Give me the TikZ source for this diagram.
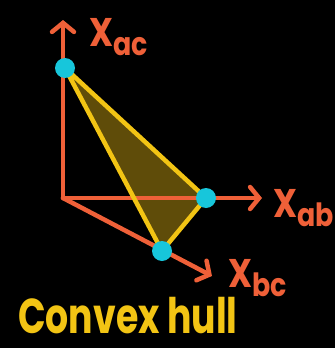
\documentclass[tikz,border=0pt]{standalone}
\usepackage{fontspec}
\usepackage{graphicx}
\setmainfont{Poppins}
\usetikzlibrary{arrows.meta}

\definecolor{axisorange}{HTML}{EF6038}
\definecolor{hullyellow}{HTML}{F2C414}
\definecolor{hullfill}{HTML}{5F4C09}
\definecolor{pointcyan}{HTML}{17C6DB}

\newcommand{\axislabel}[1]{\scalebox{0.84}[1]{\bfseries\fontsize{40}{40}\selectfont X\raisebox{-9pt}{\fontsize{32}{32}\selectfont #1}}}

\begin{document}
\begin{tikzpicture}[x=1pt, y=-1pt,
    axis/.style={axisorange, line width=4.5pt, line cap=round,
        -{Straight Barb[length=9pt, width=22pt, line cap=round]}},
    hulledge/.style={hullyellow, line width=4.5pt, line join=round},
    vertex/.style={circle, fill=pointcyan, minimum size=20pt, inner sep=0pt},
    axisname/.style={axisorange, inner sep=0pt, anchor=west}]

    % background
    \fill[black] (0,0) rectangle (335,348);
    \useasboundingbox (0,0) rectangle (335,348);

    % --------------------------
    % axes
    % --------------------------
    \coordinate (origin) at (63,198);
    \coordinate (endac) at (63,20);
    \coordinate (endab) at (262,198);
    \coordinate (endbc) at (212,276);

    % points of the hull
    \coordinate (pac) at (65,68);
    \coordinate (pab) at (206,198);
    \coordinate (pbc) at (162,251);

    % filled hull
    \fill[hullfill] (pac) -- (pab) -- (pbc) -- cycle;

    \draw[axis] (origin) -- (endac);
    \draw[axis] (origin) -- (endab);
    \draw[axis] (origin) -- (endbc);

    \node[axisname] (labelac) at (89,37) {\axislabel{ac}};
    \node[axisname] (labelab) at (273,208) {\axislabel{ab}};
    \node[axisname] (labelbc) at (228,278) {\axislabel{bc}};

    % --------------------------
    % hull edges
    % --------------------------
    \draw[hulledge] (pac) -- (pab) -- (pbc) -- cycle;

    \node[vertex] (dotac) at (pac) {};
    \node[vertex] (dotab) at (pab) {};
    \node[vertex] (dotbc) at (pbc) {};

    % caption
    \node[hullyellow, inner sep=0pt, anchor=base west] (caption) at (18,333)
        {\scalebox{0.74}[1]{\bfseries\fontsize{49}{49}\selectfont Convex hull}};

\end{tikzpicture}
\end{document}
